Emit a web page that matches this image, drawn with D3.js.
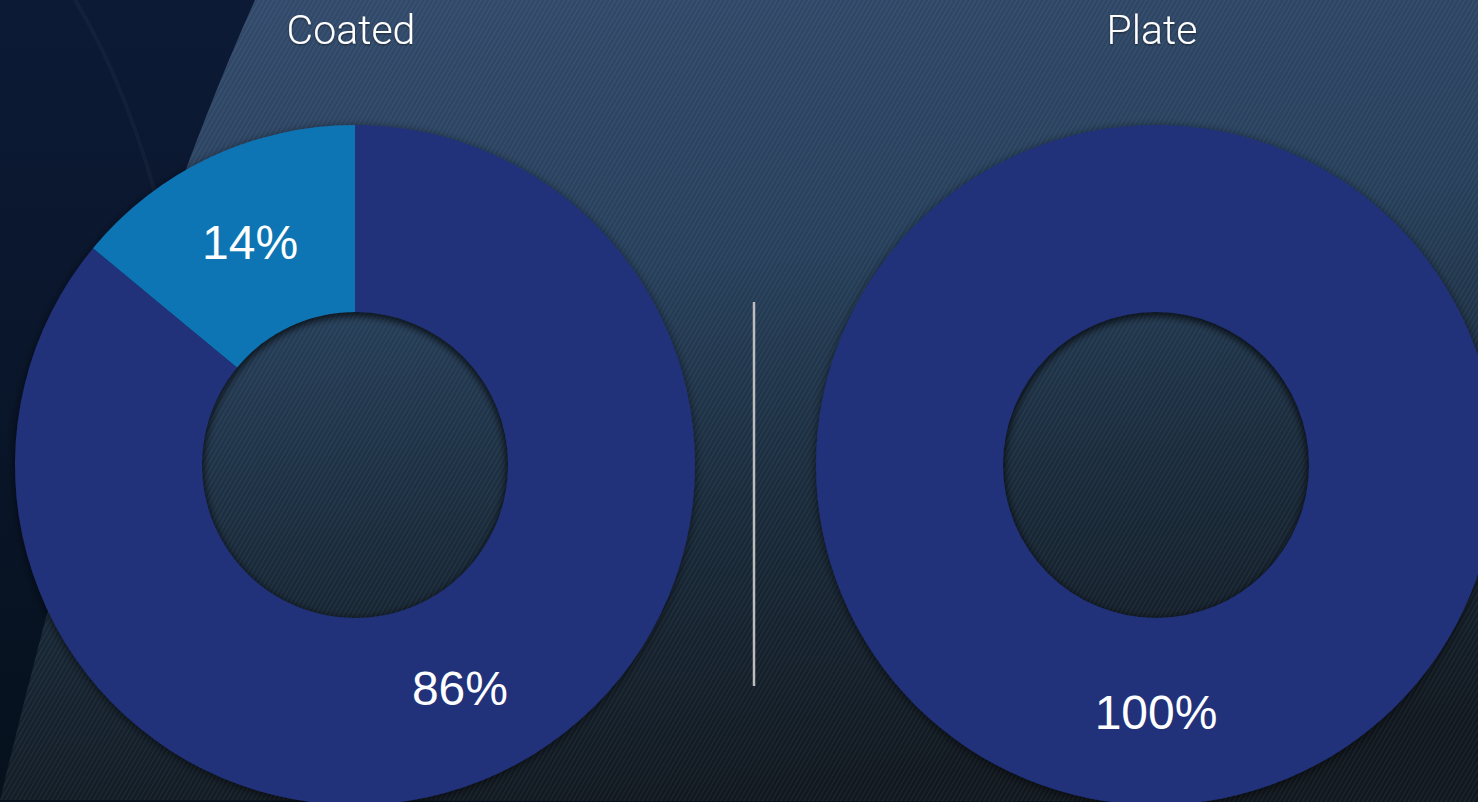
<!DOCTYPE html>
<html>
<head>
<meta charset="utf-8">
<script src="https://cdn.jsdelivr.net/npm/d3@7"></script>
<style>
  html, body { margin: 0; padding: 0; background: #0b1730; overflow: hidden; }
  svg { display: block; }
</style>
</head>
<body>
<div id="chart"></div>
<script>
// chart data
var panels = ["Coated", "Plate"];
var coatedValues = [86, 14];
var plateValues = [100];
var panelValues = [coatedValues, plateValues];
var sliceColors = ["#21317a", "#1175b3"];

var w = 1478, h = 802;
var outerR = 340, innerR = 153;

var svg = d3.select("#chart").append("svg")
    .attr("width", w)
    .attr("height", h);

var defs = svg.append("defs");

// background gradients
var gDark = defs.append("linearGradient").attr("id", "bgDark")
    .attr("x1", 0).attr("y1", 0).attr("x2", 0).attr("y2", 1);
gDark.append("stop").attr("offset", 0).attr("stop-color", "#0d1a36");
gDark.append("stop").attr("offset", 1).attr("stop-color", "#06111d");

var gTex = defs.append("linearGradient").attr("id", "bgTex")
    .attr("x1", 0.3).attr("y1", 0).attr("x2", 0.5).attr("y2", 1);
gTex.append("stop").attr("offset", 0).attr("stop-color", "#31496a");
gTex.append("stop").attr("offset", 0.35).attr("stop-color", "#263f5a");
gTex.append("stop").attr("offset", 0.65).attr("stop-color", "#192a3a");
gTex.append("stop").attr("offset", 1).attr("stop-color", "#10171e");

// stripes for the brushed texture
var pat = defs.append("pattern").attr("id", "stripes")
    .attr("width", 4).attr("height", 4)
    .attr("patternUnits", "userSpaceOnUse")
    .attr("patternTransform", "rotate(30)");
pat.append("rect").attr("width", 1.3).attr("height", 4)
    .attr("fill", "#ffffff").attr("opacity", 0.06);

var shadow = defs.append("filter").attr("id", "dshadow")
    .attr("x", -0.1).attr("y", -0.1).attr("width", 1.2).attr("height", 1.2);
shadow.append("feDropShadow")
    .attr("dx", 0).attr("dy", 2)
    .attr("stdDeviation", 5)
    .attr("flood-color", "#000")
    .attr("flood-opacity", 0.6);

var blur = defs.append("filter").attr("id", "blur");
blur.append("feGaussianBlur").attr("stdDeviation", 3.5);

var textShadow = defs.append("filter").attr("id", "tshadow");
textShadow.append("feDropShadow")
    .attr("dx", 0).attr("dy", 1)
    .attr("stdDeviation", 1)
    .attr("flood-color", "#000")
    .attr("flood-opacity", 0.5);

// background
svg.append("rect").attr("width", w).attr("height", h).attr("fill", "url(#bgDark)");
var texShape = "M255,0 Q120,300 0,800 L" + w + ",802 L" + w + ",0 Z";
svg.append("path").attr("d", texShape).attr("fill", "url(#bgTex)");
svg.append("path").attr("d", texShape).attr("fill", "url(#stripes)");
// faint wisp in the dark corner
svg.append("path")
    .attr("d", "M75,0 Q130,90 165,230")
    .attr("fill", "none")
    .attr("stroke", "#ffffff")
    .attr("stroke-opacity", 0.03)
    .attr("stroke-width", 4);

var x = d3.scalePoint()
    .domain(panels)
    .range([355, 1156]);
var cy = 465;

var pie = d3.pie().sort(null).value(d => d);
var arc = d3.arc().innerRadius(innerR).outerRadius(outerR);

panels.forEach((name, i) => {
    var cx = x(name);
    var g = svg.append("g").attr("transform", "translate(" + cx + "," + cy + ")");
    var arcs = pie(panelValues[i]);

    g.append("g")
        .attr("filter", "url(#dshadow)")
        .selectAll("path")
        .data(arcs)
        .join("path")
        .attr("d", arc)
        .attr("fill", (d, j) => sliceColors[j]);

    // inner shadow of the hole
    var clipId = "hole" + i;
    defs.append("clipPath").attr("id", clipId)
        .append("circle").attr("cx", cx).attr("cy", cy).attr("r", innerR);
    svg.append("circle")
        .attr("clip-path", "url(#" + clipId + ")")
        .attr("cx", cx).attr("cy", cy + 3)
        .attr("r", innerR + 4)
        .attr("fill", "none")
        .attr("stroke", "#000")
        .attr("stroke-opacity", 0.45)
        .attr("stroke-width", 9)
        .attr("filter", "url(#blur)");

    g.selectAll("text.pct")
        .data(arcs)
        .join("text")
        .attr("class", "pct")
        .attr("transform", d => {
            var c = arc.centroid(d);
            return "translate(" + c[0] + "," + c[1] + ")";
        })
        .attr("text-anchor", "middle")
        .attr("dy", "0.36em")
        .style("font-family", "'Liberation Sans', Arial, sans-serif")
        .style("font-size", "48px")
        .style("fill", "#ffffff")
        .text(d => d.data + "%");

    svg.append("text")
        .attr("x", cx - 4)
        .attr("y", 44)
        .attr("text-anchor", "middle")
        .attr("filter", "url(#tshadow)")
        .style("font-family", "Roboto, 'Liberation Sans', sans-serif")
        .style("font-weight", 300)
        .style("font-size", "41px")
        .style("fill", "#ffffff")
        .text(name);
});

// divider between the two donuts
svg.append("line")
    .attr("x1", (x(panels[0]) + x(panels[1])) / 2 - 1.5)
    .attr("x2", (x(panels[0]) + x(panels[1])) / 2 - 1.5)
    .attr("y1", 302)
    .attr("y2", 686)
    .attr("stroke", "#bdbdbd")
    .attr("stroke-width", 2.5);
</script>
</body>
</html>
